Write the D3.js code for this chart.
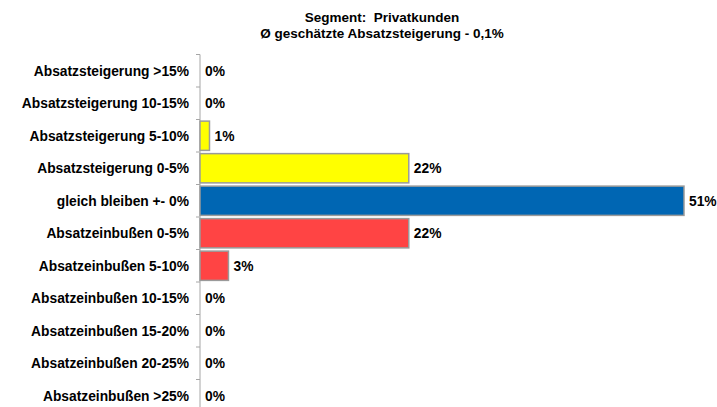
<html>
<head>
<title>Segment Privatkunden</title>
<script src="https://d3js.org/d3.v7.min.js"></script>
<style>
  body { margin: 0; background: #fff; }
  text { font-family: "Liberation Sans", Arial, sans-serif; font-weight: bold; fill: #000; white-space: pre; }
</style>
</head>
<body>
<svg id="chart" width="717" height="407"></svg>
<script>
const categories = [
  "Absatzsteigerung >15%", "Absatzsteigerung 10-15%", "Absatzsteigerung 5-10%",
  "Absatzsteigerung 0-5%", "gleich bleiben +- 0%", "Absatzeinbußen 0-5%",
  "Absatzeinbußen 5-10%", "Absatzeinbußen 10-15%", "Absatzeinbußen 15-20%",
  "Absatzeinbußen 20-25%", "Absatzeinbußen >25%"
];
const values = [0, 0, 1, 22, 51, 22, 3, 0, 0, 0, 0];
const barColors = ["#ffff00", "#ffff00", "#ffff00", "#ffff00", "#0066b3",
  "#ff4444", "#ff4444", "#ff4444", "#ff4444", "#ff4444", "#ff4444"];
const titleLines = ["Segment:  Privatkunden", "Ø geschätzte Absatzsteigerung - 0,1%"];

const svg = d3.select("#chart");
const x0 = 200;

const x = d3.scaleLinear().domain([0, 51]).range([x0, 684]);
const y = d3.scaleBand().domain(categories).range([54.5, 412]).paddingInner(0.1).paddingOuter(0.05);

// title
svg.append("g").selectAll("text").data(titleLines).join("text")
  .attr("x", 382).attr("y", (d, i) => 22 + i * 16)
  .attr("text-anchor", "middle")
  .style("font-size", "13.5px")
  .text(d => d);

// axis line + ticks at band boundaries
const step = y.step();
const bounds = d3.range(categories.length + 1).map(i => 54.5 + i * step);
svg.append("line")
  .attr("x1", x0).attr("x2", x0).attr("y1", 54.5).attr("y2", 412)
  .attr("stroke", "#a6a6a6");
svg.append("g").selectAll("line").data(bounds).join("line")
  .attr("x1", x0 - 4).attr("x2", x0).attr("y1", d => d).attr("y2", d => d)
  .attr("stroke", "#a6a6a6");

// bars (skip zeros)
svg.append("g").selectAll("rect")
  .data(values.map((v, i) => ({ v, i })).filter(d => d.v > 0))
  .join("rect")
  .attr("x", x0)
  .attr("y", d => y(categories[d.i]))
  .attr("width", d => x(d.v) - x0)
  .attr("height", y.bandwidth())
  .attr("fill", d => barColors[d.i])
  .attr("stroke", "#9a9a9a").attr("stroke-width", 1.5);

// category labels
svg.append("g").selectAll("text").data(categories).join("text")
  .attr("x", 189).attr("y", d => y(d) + y.bandwidth() / 2)
  .attr("dy", "0.35em").attr("text-anchor", "end")
  .style("font-size", "13.8px")
  .text(d => d);

// value labels
svg.append("g").selectAll("text").data(values).join("text")
  .attr("x", d => x(d) + 5)
  .attr("y", (d, i) => y(categories[i]) + y.bandwidth() / 2)
  .attr("dy", "0.35em")
  .style("font-size", "13.8px")
  .text(d => d + "%");
</script>
</body>
</html>
